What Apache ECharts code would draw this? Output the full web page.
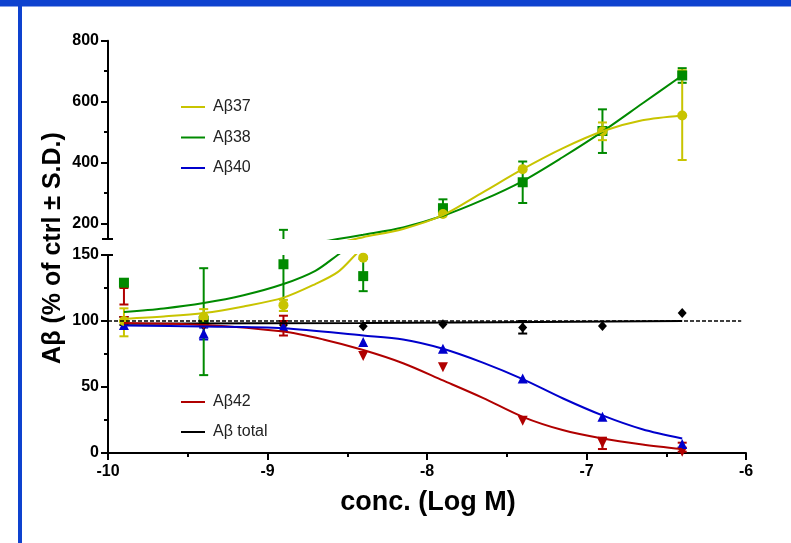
<!DOCTYPE html>
<html>
<head>
<meta charset="utf-8">
<script src="https://cdn.jsdelivr.net/npm/echarts@6/dist/echarts.min.js"></script>
<style>
html, body { margin: 0; padding: 0; background: #fff; }
#main { width: 791px; height: 543px; }
</style>
</head>
<body>
<div id="main"></div>
<script>
// concentrations (log M)
var conc = [-9.9, -9.4, -8.9, -8.4, -7.9, -7.4, -6.9, -6.4];

// mean values, % of ctrl
var ab37 = [100, 103, 112, 148, 232, 379, 503, 555];
var ab38 = [129, 100, 143, 134, 251, 336, 504, 686];
var ab40 = [97, 90.5, 95.6, 84, 79, 56.5, 27.4, 6.8];
var ab42 = [100, 97, 97, 73.5, 65, 24.4, 7.3, 1];
var abTotal = [100, 97, 97, 96, 97.5, 95, 96.2, 106];

// error bar ends (S.D.), null = no bar drawn
var ab37Low = [88.4, 96, 107.6, null, null, null, 474, 409];
var ab37High = [109.6, 109, 116, null, null, null, 532, 703];
var ab38Low = [null, 59, 107.6, 122.6, 251, 268, 432, 662];
var ab38High = [null, 140, 180, 147, 280, 404, 575, 710];
var ab40Low = [null, 86, null, null, null, null, null, null];
var ab40High = [null, 95, null, null, null, null, null, null];
var ab42Low = [112.5, null, 89, null, null, null, 3, 1];
var ab42High = [125, null, 104, null, null, null, 11.6, 7.8];
var abTotalLow = [97, null, null, null, null, 90.5, null, null];
var abTotalHigh = [103, null, null, null, null, 100, null, null];

// fitted curves
var fit37X = [-9.9, -9.65, -9.4, -9.15, -8.9, -8.7, -8.56, -8.45, -8.4, -8.15, -7.9, -7.65, -7.4, -7.15, -6.9, -6.65, -6.4];
var fit37Y = [101.8, 103.5, 106, 111, 117.7, 128, 137, 150, 156, 183, 228, 303, 379, 447, 503, 539, 555];
var fit38X = [-9.9, -9.65, -9.4, -9.15, -8.9, -8.7, -8.56, -8.4, -8.15, -7.9, -7.65, -7.4, -7.15, -6.9, -6.65, -6.4];
var fit38Y = [106.8, 109.5, 113.6, 119.5, 128, 138, 150, 164, 188, 226, 278, 340, 418, 502, 594, 686];
var fit40X = [-9.9, -9.4, -8.9, -8.4, -8.15, -7.9, -7.65, -7.4, -7.15, -6.9, -6.65, -6.4];
var fit40Y = [96.5, 95.8, 94.5, 89, 86, 79, 68.5, 56, 41.5, 28.5, 18, 11];
var fit42X = [-9.9, -9.4, -8.9, -8.65, -8.4, -8.15, -7.9, -7.65, -7.4, -7.15, -6.9, -6.65, -6.4];
var fit42Y = [98.5, 97, 92, 86, 78, 68, 55, 41.8, 27.4, 17.4, 11, 6.5, 3];
var fitTotalX = [-9.9, -8.4, -6.4];
var fitTotalY = [98, 98.5, 100];

// control level
var ctrlX = [-10, -6.03];
var ctrlY = [100, 100];

var yellow = '#c8c400';
var green = '#008a00';
var blue = '#0000cc';
var red = '#b00000';
var black = '#000000';
var font = "'Liberation Sans', Arial, sans-serif";

function pairs(xs, ys) {
    var out = [];
    for (var i = 0; i < xs.length; i++) {
        out.push([xs[i], ys[i]]);
    }
    return out;
}

function fitSeries(name, color, xs, ys, grid) {
    return {
        name: name,
        type: 'line',
        xAxisIndex: grid,
        yAxisIndex: grid,
        data: pairs(xs, ys),
        smooth: 0.3,
        showSymbol: false,
        symbol: 'none',
        clip: true,
        itemStyle: { color: color },
        lineStyle: { color: color, width: 2 },
        silent: true
    };
}

function errSeries(color, low, high, grid) {
    var data = [];
    for (var i = 0; i < conc.length; i++) {
        if (low[i] != null) data.push([conc[i], low[i], high[i]]);
    }
    return {
        type: 'custom',
        xAxisIndex: grid,
        yAxisIndex: grid,
        data: data,
        encode: { x: 0, y: [1, 2] },
        silent: true,
        renderItem: function (params, api) {
            var x = api.value(0);
            var pLow = api.coord([x, api.value(1)]);
            var pHigh = api.coord([x, api.value(2)]);
            var top = params.coordSys.y;
            var bottom = params.coordSys.y + params.coordSys.height;
            var y1 = Math.max(Math.min(pLow[1], bottom), top);
            var y2 = Math.max(Math.min(pHigh[1], bottom), top);
            if (Math.abs(y1 - y2) < 0.5) return;
            var st = { stroke: color, lineWidth: 2 };
            var kids = [{ type: 'line', shape: { x1: pLow[0], y1: y1, x2: pLow[0], y2: y2 }, style: st }];
            if (pLow[1] <= bottom + 0.5 && pLow[1] >= top - 0.5) {
                kids.push({ type: 'line', shape: { x1: pLow[0] - 4.5, y1: pLow[1], x2: pLow[0] + 4.5, y2: pLow[1] }, style: st });
            }
            if (pHigh[1] <= bottom + 0.5 && pHigh[1] >= top - 0.5) {
                kids.push({ type: 'line', shape: { x1: pHigh[0] - 4.5, y1: pHigh[1], x2: pHigh[0] + 4.5, y2: pHigh[1] }, style: st });
            }
            return { type: 'group', children: kids };
        }
    };
}

function dotSeries(color, ys, grid, symbol, size, rotate) {
    var data = [];
    for (var i = 0; i < conc.length; i++) {
        var inLower = ys[i] <= 150;
        if ((grid == 0 && inLower) || (grid == 1 && !inLower)) data.push([conc[i], ys[i]]);
    }
    return {
        type: 'scatter',
        xAxisIndex: grid,
        yAxisIndex: grid,
        data: data,
        symbol: symbol,
        symbolSize: size,
        symbolRotate: rotate || 0,
        itemStyle: { color: color, opacity: 1 },
        silent: true
    };
}

var tickLabel = { fontFamily: font, fontSize: 16, fontWeight: 'bold', color: black };

var chart = echarts.init(document.getElementById('main'));

var series = [
    {
        type: 'line',
        xAxisIndex: 0,
        yAxisIndex: 0,
        data: pairs(ctrlX, ctrlY),
        symbol: 'none',
        lineStyle: { color: black, width: 1.3, type: [4, 2] },
        silent: true
    },
    fitSeries('Aβ total', black, fitTotalX, fitTotalY, 0),
    fitSeries('Aβ42', red, fit42X, fit42Y, 0),
    fitSeries('Aβ40', blue, fit40X, fit40Y, 0),
    fitSeries('Aβ38', green, fit38X, fit38Y, 0),
    fitSeries('Aβ37', yellow, fit37X, fit37Y, 0),
    fitSeries('Aβ38', green, fit38X, fit38Y, 1),
    fitSeries('Aβ37', yellow, fit37X, fit37Y, 1),

    errSeries(black, abTotalLow, abTotalHigh, 0),
    errSeries(blue, ab40Low, ab40High, 0),
    errSeries(red, ab42Low, ab42High, 0),
    errSeries(green, ab38Low, ab38High, 0),
    errSeries(green, ab38Low, ab38High, 1),
    errSeries(yellow, ab37Low, ab37High, 0),
    errSeries(yellow, ab37Low, ab37High, 1),

    dotSeries(black, abTotal, 0, 'diamond', [9, 10]),
    dotSeries(red, ab42, 0, 'triangle', 10, 180),
    dotSeries(blue, ab40, 0, 'triangle', 10),
    dotSeries(green, ab38, 0, 'rect', 10),
    dotSeries(green, ab38, 1, 'rect', 10),
    dotSeries(yellow, ab37, 0, 'circle', 10),
    dotSeries(yellow, ab37, 1, 'circle', 10)
];

var legendText = { fontFamily: font, fontSize: 16, color: '#222', lineHeight: 16, padding: [0, 0, 0, 3] };

var option = {
    animation: false,
    backgroundColor: '#fff',
    legend: [
        {
            data: ['Aβ37', 'Aβ38', 'Aβ40'],
            orient: 'vertical',
            left: 176,
            top: 94,
            icon: 'rect',
            itemWidth: 24,
            itemHeight: 2,
            itemGap: 14.5,
            selectedMode: false,
            textStyle: legendText
        },
        {
            data: ['Aβ42', 'Aβ total'],
            orient: 'vertical',
            left: 176,
            top: 389,
            icon: 'rect',
            itemWidth: 24,
            itemHeight: 2,
            itemGap: 14,
            selectedMode: false,
            textStyle: legendText
        }
    ],
    grid: [
        { left: 108, top: 255, width: 638, height: 198, outerBoundsMode: 'none' },
        { left: 108, top: 40.7, width: 638, height: 198.3, outerBoundsMode: 'none' }
    ],
    xAxis: [
        {
            type: 'value',
            gridIndex: 0,
            min: -10,
            max: -6,
            interval: 1,
            axisLine: { show: true, lineStyle: { color: black, width: 2 } },
            axisTick: { show: true, length: 7, lineStyle: { color: black, width: 2 } },
            minorTick: { show: true, splitNumber: 2, length: 4, lineStyle: { color: black, width: 2 } },
            splitLine: { show: false },
            axisLabel: Object.assign({ margin: 11 }, tickLabel)
        },
        {
            type: 'value',
            gridIndex: 1,
            min: -10,
            max: -6,
            show: false
        }
    ],
    yAxis: [
        {
            type: 'value',
            gridIndex: 0,
            position: 'left',
            min: 0,
            max: 150,
            interval: 50,
            axisLine: { show: true, lineStyle: { color: black, width: 2 } },
            axisTick: { show: true, length: 7, lineStyle: { color: black, width: 2 } },
            minorTick: { show: true, splitNumber: 2, length: 4, lineStyle: { color: black, width: 2 } },
            splitLine: { show: false },
            axisLabel: Object.assign({ margin: 9 }, tickLabel)
        },
        {
            type: 'value',
            gridIndex: 1,
            position: 'left',
            min: 150,
            max: 800,
            axisLine: { show: true, lineStyle: { color: black, width: 2 } },
            axisTick: { show: true, length: 7, customValues: [200, 400, 600, 800], lineStyle: { color: black, width: 2 } },
            splitLine: { show: false },
            axisLabel: Object.assign({ margin: 9, customValues: [200, 400, 600, 800] }, tickLabel)
        },
        {
            type: 'value',
            gridIndex: 1,
            position: 'left',
            offset: 0,
            min: 150,
            max: 800,
            axisLine: { show: false },
            axisTick: { show: true, length: 4, customValues: [300, 500, 700], lineStyle: { color: black, width: 2 } },
            splitLine: { show: false },
            axisLabel: { show: false }
        }
    ],
    series: series
};

chart.setOption(option);

// axis break marks, titles and the blue frame
var lowTop = chart.convertToPixel({ gridIndex: 0 }, [-10, 150]);
var upBottom = chart.convertToPixel({ gridIndex: 1 }, [-10, 150]);

chart.setOption({
    graphic: [
        { type: 'rect', shape: { x: 0, y: 0, width: 791, height: 6.5 }, style: { fill: '#0e42cf' }, silent: true },
        { type: 'rect', shape: { x: 18, y: 0, width: 4, height: 543 }, style: { fill: '#0e42cf' }, silent: true },
        { type: 'line', shape: { x1: lowTop[0] - 1, y1: lowTop[1], x2: lowTop[0] + 5, y2: lowTop[1] }, style: { stroke: black, lineWidth: 2 }, silent: true },
        { type: 'line', shape: { x1: upBottom[0] - 6, y1: upBottom[1], x2: upBottom[0] + 5, y2: upBottom[1] }, style: { stroke: black, lineWidth: 2 }, silent: true },
        {
            type: 'text',
            x: 53,
            y: 248,
            rotation: Math.PI / 2,
            style: {
                text: 'Aβ (% of ctrl ± S.D.)',
                fontFamily: font,
                fontSize: 25,
                fontWeight: 'bold',
                fill: black,
                align: 'center',
                verticalAlign: 'middle'
            },
            silent: true
        },
        {
            type: 'text',
            x: 428,
            y: 503,
            style: {
                text: 'conc. (Log M)',
                fontFamily: font,
                fontSize: 27,
                fontWeight: 'bold',
                fill: black,
                align: 'center',
                verticalAlign: 'middle'
            },
            silent: true
        }
    ]
});
</script>
</body>
</html>
